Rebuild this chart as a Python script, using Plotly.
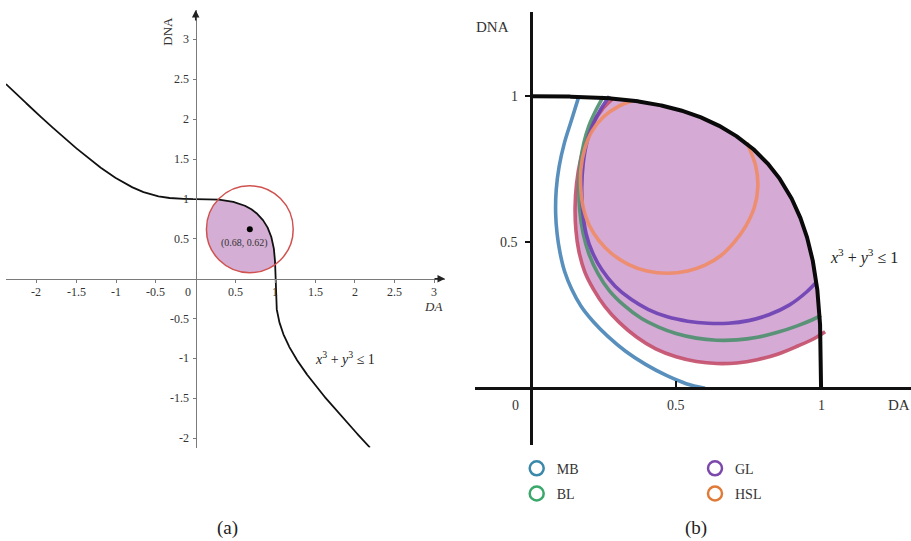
import numpy as np
import plotly.graph_objects as go

W, H = 911, 541
SERIF = "Liberation Serif"

# ---------------- Panel (a) data ----------------
A_TICKS = [-2, -1.5, -1, -0.5, 0.5, 1, 1.5, 2, 2.5, 3]
A_TICK_TEXT = ["-2", "-1.5", "-1", "-0.5", "0.5", "1", "1.5", "2", "2.5", "3"]
A_CURVE_X_START = -2.383
A_CURVE_X_END = 2.189
A_CENTER = (0.68, 0.62)
A_RADIUS = 0.545
A_CENTER_LABEL = "(0.68, 0.62)"

# ---------------- Panel (b) data ----------------
B_XTICKS = [0.5]
B_YTICKS = [0.5, 1]
B_XTICK_TEXT = ["0.5", "1"]
B_XTICK_VALS = [0.5, 1]
B_YTICK_TEXT = ["0.5", "1"]

MB_X = [0.165, 0.140, 0.115, 0.097, 0.087, 0.085, 0.090, 0.100, 0.116, 0.140, 0.172, 0.215, 0.265, 0.325, 0.395, 0.465, 0.535, 0.600]
MB_Y = [1.000, 0.920, 0.840, 0.760, 0.680, 0.600, 0.530, 0.465, 0.400, 0.340, 0.282, 0.228, 0.178, 0.128, 0.082, 0.045, 0.016, 0.000]

RED_X = [0.280, 0.245, 0.215, 0.190, 0.170, 0.157, 0.152, 0.155, 0.165, 0.185, 0.215, 0.255, 0.305, 0.365, 0.430, 0.500, 0.570, 0.640, 0.710, 0.780, 0.850, 0.920, 0.975, 1.014]
RED_Y = [0.990, 0.955, 0.910, 0.850, 0.780, 0.700, 0.620, 0.540, 0.470, 0.400, 0.340, 0.280, 0.225, 0.175, 0.135, 0.108, 0.092, 0.085, 0.087, 0.098, 0.117, 0.145, 0.170, 0.194]

BL_X = [0.250, 0.225, 0.200, 0.182, 0.170, 0.165, 0.168, 0.180, 0.200, 0.230, 0.270, 0.320, 0.380, 0.440, 0.500, 0.570, 0.640, 0.710, 0.780, 0.850, 0.920, 0.970, 1.000]
BL_Y = [1.000, 0.955, 0.900, 0.840, 0.770, 0.690, 0.610, 0.530, 0.460, 0.395, 0.335, 0.285, 0.240, 0.210, 0.188, 0.172, 0.165, 0.166, 0.175, 0.192, 0.215, 0.235, 0.250]

GL_X = [0.270, 0.240, 0.212, 0.192, 0.180, 0.175, 0.178, 0.190, 0.212, 0.245, 0.290, 0.345, 0.405, 0.470, 0.540, 0.610, 0.680, 0.750, 0.820, 0.890, 0.950, 0.985]
GL_Y = [1.000, 0.955, 0.900, 0.840, 0.770, 0.690, 0.610, 0.530, 0.465, 0.405, 0.350, 0.305, 0.270, 0.245, 0.230, 0.223, 0.223, 0.232, 0.252, 0.285, 0.330, 0.365]

HSL_X = [0.350, 0.300, 0.250, 0.210, 0.185, 0.172, 0.172, 0.180, 0.200, 0.235, 0.280, 0.335, 0.400, 0.470, 0.540, 0.600, 0.655, 0.700, 0.740, 0.770, 0.782, 0.775, 0.745]
HSL_Y = [0.985, 0.965, 0.930, 0.880, 0.820, 0.750, 0.680, 0.620, 0.560, 0.505, 0.460, 0.425, 0.402, 0.394, 0.402, 0.422, 0.455, 0.500, 0.555, 0.620, 0.690, 0.760, 0.840]

LEGEND_1 = ["MB", "BL"]
LEGEND_2 = ["GL", "HSL"]
LEGEND_COLORS = {"MB": "#3a88aa", "BL": "#3aa86a", "GL": "#7d48ab", "HSL": "#e07a38"}

# ---------------- geometry helpers ----------------
def g(x, y):
    return x ** 3 + y ** 3 - 1.0

# panel (a) full curve y = cbrt(1 - x^3)
ax_curve_x = np.linspace(A_CURVE_X_START, A_CURVE_X_END, 6001)
ax_curve_x = np.sort(np.append(ax_curve_x, 1.0))
ax_curve_y = np.cbrt(1 - ax_curve_x ** 3)

# panel (a) filled region: circle ∩ {x^3 + y^3 <= 1}
cx, cy = A_CENTER
th = np.linspace(0, 2 * np.pi, 1441)
ux, uy = np.cos(th), np.sin(th)
outside = g(cx + A_RADIUS * ux, cy + A_RADIUS * uy) > 0
lo = np.zeros_like(th)
hi = np.ones_like(th)
for _ in range(50):
    mid = (lo + hi) / 2
    ins = g(cx + mid * A_RADIUS * ux, cy + mid * A_RADIUS * uy) <= 0
    lo = np.where(ins, mid, lo)
    hi = np.where(ins, hi, mid)
s = np.where(outside, lo, 1.0)
fill_a_x = cx + s * A_RADIUS * ux
fill_a_y = cy + s * A_RADIUS * uy

# panel (b) curve in first quadrant: x = cos^(2/3), y = sin^(2/3)
phi = np.linspace(0, np.pi / 2, 801)
b_curve_x = np.cos(phi) ** (2 / 3)
b_curve_y = np.sin(phi) ** (2 / 3)

# panel (b) fill: red arc + curve back to start
phi1 = np.arcsin(min(RED_Y[-1], 1) ** 1.5)
phi2 = np.arccos(RED_X[0] ** 1.5)
phi_f = np.linspace(phi1, phi2, 300)
fill_b_x = list(RED_X) + list(np.cos(phi_f) ** (2 / 3))
fill_b_y = list(RED_Y) + list(np.sin(phi_f) ** (2 / 3))

# ---------------- figure ----------------
fig = go.Figure()

# Panel (a)
fig.add_trace(go.Scatter(x=fill_a_x, y=fill_a_y, mode="lines", fill="toself",
                         fillcolor="#d4aed4", line=dict(width=0), hoverinfo="skip",
                         showlegend=False, xaxis="x", yaxis="y"))
fig.add_trace(go.Scatter(x=ax_curve_x, y=ax_curve_y, mode="lines",
                         line=dict(color="#111111", width=1.8), showlegend=False,
                         xaxis="x", yaxis="y"))
fig.add_trace(go.Scatter(x=[cx], y=[cy], mode="markers",
                         marker=dict(color="#000000", size=6), showlegend=False,
                         xaxis="x", yaxis="y"))

# Panel (b)
fig.add_trace(go.Scatter(x=fill_b_x, y=fill_b_y, mode="lines", fill="toself",
                         fillcolor="#d5aad5", line=dict(width=0), hoverinfo="skip",
                         showlegend=False, xaxis="x2", yaxis="y2"))
arc_specs = [
    (MB_X, MB_Y, "#4a86b6"),
    (RED_X, RED_Y, "#c4506c"),
    (BL_X, BL_Y, "#4f9070"),
    (GL_X, GL_Y, "#6c42b4"),
    (HSL_X, HSL_Y, "#ef8c68"),
]
for xs, ys, col in arc_specs:
    fig.add_trace(go.Scatter(x=xs, y=ys, mode="lines", line=dict(color=col, width=3.6, shape="spline"),
                             opacity=0.92, showlegend=False, xaxis="x2", yaxis="y2"))
fig.add_trace(go.Scatter(x=b_curve_x, y=b_curve_y, mode="lines",
                         line=dict(color="#0a0a0a", width=4), showlegend=False,
                         xaxis="x2", yaxis="y2"))

# Legend entries
for name in LEGEND_1:
    c = LEGEND_COLORS[name]
    fig.add_trace(go.Scatter(x=[None], y=[None], mode="markers", name=name, legendgroup=name,
                             marker=dict(symbol="circle-open", size=14, color=c, line=dict(width=2.5, color=c)),
                             legend="legend", xaxis="x2", yaxis="y2"))
for name in LEGEND_2:
    c = LEGEND_COLORS[name]
    fig.add_trace(go.Scatter(x=[None], y=[None], mode="markers", name=name, legendgroup=name,
                             marker=dict(symbol="circle-open", size=14, color=c, line=dict(width=2.5, color=c)),
                             legend="legend2", xaxis="x2", yaxis="y2"))

# ---------------- axes ----------------
A_XPIX = (6, 445)
A_YPIX = (10, 447.5)
A_X0PIX, A_Y0PIX = 195.7, 278.7
A_XR = [A_CURVE_X_START, 3.132]
A_YR = [-2.117, 3.369]

B_XPIX = (475, 911)
B_YPIX = (11.7, 445)
B_X0PIX, B_Y0PIX = 531, 388.3
B_XR = [-0.193, 1.310]
B_YR = [-0.194, 1.290]

def xdom(p):
    return [p[0] / W, p[1] / W]

def ydom(p):
    return [1 - p[1] / H, 1 - p[0] / H]

axis_common = dict(showgrid=False, zeroline=False, showticklabels=False, automargin=False,
                   anchor="free", fixedrange=True)

fig.update_layout(
    xaxis=dict(domain=xdom(A_XPIX), range=A_XR, position=1 - A_Y0PIX / H,
               showline=True, linecolor="#7a7a7a", linewidth=1.5,
               ticks="outside", tickvals=A_TICKS, ticklen=3, tickwidth=1, tickcolor="#7a7a7a",
               **axis_common),
    yaxis=dict(domain=ydom(A_YPIX), range=A_YR, position=A_X0PIX / W,
               showline=True, linecolor="#7a7a7a", linewidth=1.5,
               ticks="outside", tickvals=A_TICKS, ticklen=3, tickwidth=1, tickcolor="#7a7a7a",
               **axis_common),
    xaxis2=dict(domain=xdom(B_XPIX), range=B_XR, position=1 - B_Y0PIX / H,
                showline=True, linecolor="#111111", linewidth=3,
                ticks="inside", tickvals=B_XTICKS, ticklen=6, tickwidth=2, tickcolor="#111111",
                **axis_common),
    yaxis2=dict(domain=ydom(B_YPIX), range=B_YR, position=B_X0PIX / W,
                showline=True, linecolor="#111111", linewidth=3,
                ticks="outside", tickvals=B_YTICKS, ticklen=5, tickwidth=2, tickcolor="#111111",
                **axis_common),
)

shapes = [
    dict(type="circle", xref="x", yref="y",
         x0=cx - A_RADIUS, x1=cx + A_RADIUS, y0=cy - A_RADIUS, y1=cy + A_RADIUS,
         line=dict(color="#d0524f", width=1.5), layer="above"),
]

annotations = []

def txt(text, x, y, xref, yref, size, **kw):
    d = dict(text=text, x=x, y=y, xref=xref, yref=yref, showarrow=False,
             font=dict(family=SERIF, size=size, color=kw.pop("color", "#333333")))
    d.update(kw)
    annotations.append(d)

# panel (a) tick labels
for v, t in zip(A_TICKS, A_TICK_TEXT):
    txt(t, v, 0, "x", "y", 12, yshift=-13, xanchor="center", yanchor="middle")
    txt(t, 0, v, "x", "y", 12, xshift=-5, xanchor="right", yanchor="middle")
txt("0", 0, 0, "x", "y", 12, xshift=-8, yshift=-13, xanchor="center", yanchor="middle")
txt("DNA", 0, 3.106, "x", "y", 13, xshift=-28, textangle=-90, xanchor="center", yanchor="middle")
txt("<i>DA</i>", 2.975, 0, "x", "y", 13, yshift=-28, xanchor="center", yanchor="middle")
txt("<i>x</i><sup>3</sup> + <i>y</i><sup>3</sup> ≤ 1", 1.876, -1.0, "x", "y", 14,
    xanchor="center", yanchor="middle", color="#222222")
txt(A_CENTER_LABEL, cx, cy, "x", "y", 10, xshift=-5, yshift=-14,
    xanchor="center", yanchor="middle")
# arrows
annotations.append(dict(x=A_XR[1], y=0, xref="x", yref="y", ax=-12, ay=0, text="",
                        showarrow=True, arrowhead=2, arrowsize=1, arrowwidth=1.5, arrowcolor="#222222"))
annotations.append(dict(x=0, y=A_YR[1], xref="x", yref="y", ax=0, ay=12, text="",
                        showarrow=True, arrowhead=2, arrowsize=1, arrowwidth=1.5, arrowcolor="#222222"))

# panel (b) labels
for v, t in zip(B_XTICK_VALS, B_XTICK_TEXT):
    txt(t, v, 0, "x2", "y2", 14, yshift=-17, xanchor="center", yanchor="middle")
txt("0", 0, 0, "x2", "y2", 14, xshift=-15, yshift=-17, xanchor="center", yanchor="middle")
for v, t in zip(B_YTICKS, B_YTICK_TEXT):
    txt(t, 0, v, "x2", "y2", 14, xshift=-11, xanchor="right", yanchor="middle")
txt("DNA", 0, 1.237, "x2", "y2", 15, xshift=-38, xanchor="center", yanchor="middle")
txt("DA", 1.269, 0, "x2", "y2", 15, yshift=-17, xanchor="center", yanchor="middle")
txt("<i>x</i><sup>3</sup> + <i>y</i><sup>3</sup> ≤ 1", 1.148, 0.451, "x2", "y2", 16,
    xanchor="center", yanchor="middle", color="#222222")

# panel captions
txt("(a)", 227 / W, 1 - 528 / H, "paper", "paper", 19, xanchor="center", yanchor="middle", color="#222222")
txt("(b)", 696 / W, 1 - 528 / H, "paper", "paper", 19, xanchor="center", yanchor="middle", color="#222222")

legend_common = dict(font=dict(family=SERIF, size=14, color="#333333"), bgcolor="rgba(0,0,0,0)",
                     xanchor="left", yanchor="top", orientation="v", itemclick=False,
                     itemdoubleclick=False, tracegroupgap=4, traceorder="grouped")

fig.update_layout(
    width=W, height=H,
    margin=dict(l=0, r=0, t=0, b=0),
    paper_bgcolor="white", plot_bgcolor="rgba(0,0,0,0)",
    font=dict(family=SERIF, color="#333333"),
    shapes=shapes, annotations=annotations,
    showlegend=True,
    legend=dict(x=(536.7 - 20) / W, y=1 - (466.7 - 14) / H, **legend_common),
    legend2=dict(x=(715 - 20) / W, y=1 - (466.7 - 14) / H, **legend_common),
    hovermode=False,
)

fig.write_html("out.html", config={"displayModeBar": False, "staticPlot": True})
